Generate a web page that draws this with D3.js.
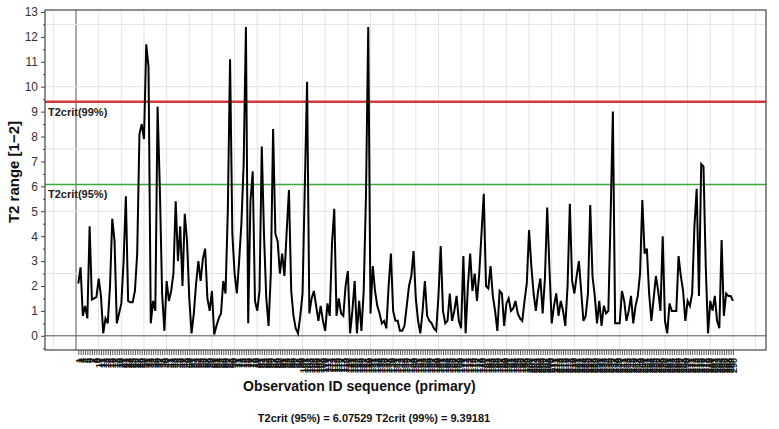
<!DOCTYPE html>
<html>
<head>
<meta charset="utf-8">
<script src="https://cdn.jsdelivr.net/npm/d3@7"></script>
<style>
  body { margin: 0; background: #fff; }
  svg text { font-family: "Liberation Sans", Arial, sans-serif; }
</style>
</head>
<body>
<div id="chart"></div>
<script>
// T2 range per observation (obs 1..290)
var t2Values = [
  2.1, 2.75, 0.8, 1.2, 0.7, 4.4, 1.45, 1.5, 1.55, 2.3,
  1.6, 0.1, 0.7, 0.5, 2.0, 4.7, 3.8, 0.5, 0.9, 1.3,
  3.0, 5.6, 1.4, 1.35, 1.35, 1.8, 3.3, 8.1, 8.5, 7.9,
  11.7, 10.8, 0.5, 1.4, 1.0, 9.2, 5.9, 1.7, 0.2, 2.2,
  1.4, 1.8, 2.5, 5.4, 3.0, 4.4, 2.0, 4.9, 3.8, 1.5,
  0.1, 0.9, 2.1, 3.0, 2.2, 3.1, 3.5, 1.5, 1.0, 1.8,
  0.05, 0.4, 0.7, 0.9, 2.2, 1.7, 5.0, 11.1, 4.1, 2.5,
  1.7, 3.0, 4.5, 6.9, 12.4, 0.5, 5.4, 6.6, 1.4, 1.0,
  1.8, 7.6, 4.0, 1.5, 0.4, 2.5, 8.3, 4.1, 3.8, 2.5,
  3.3, 2.4, 4.2, 5.85, 1.8, 0.8, 0.3, 0.1, 0.8, 1.7,
  6.0, 10.2, 0.9, 1.5, 1.8, 1.2, 0.6, 1.2, 0.6, 0.2,
  1.3, 0.8, 3.7, 5.1, 0.8, 1.5, 0.9, 0.8, 2.0, 2.6,
  0.1, 1.0, 2.2, 0.1, 1.4, 0.2, 1.8, 5.6, 12.4, 0.9,
  2.8, 1.8, 1.2, 0.9, 0.5, 0.6, 0.3, 2.0, 3.3, 1.0,
  0.6, 0.6, 0.2, 0.2, 0.4, 1.2, 2.0, 2.4, 3.4, 1.5,
  0.6, 0.1, 1.0, 2.2, 0.8, 0.6, 0.5, 0.3, 0.2, 1.6,
  3.6, 1.0, 0.5, 0.6, 1.7, 0.6, 1.0, 1.6, 0.6, 0.3,
  3.2, 0.1, 2.0, 3.3, 1.8, 2.5, 1.4, 2.5, 4.1, 5.7,
  2.0, 1.9, 2.8, 1.6, 1.0, 0.2, 1.8, 1.7, 0.4, 1.3,
  1.5, 1.0, 1.1, 1.4, 0.9, 0.7, 0.6, 1.4, 2.1, 4.25,
  2.8, 1.7, 1.0, 1.8, 2.3, 0.9, 2.3, 5.15, 2.7, 0.5,
  1.2, 1.7, 0.8, 1.4, 1.0, 0.4, 2.0, 5.3, 2.2, 1.7,
  2.4, 3.0, 1.8, 0.6, 0.8, 1.7, 5.25, 2.4, 1.6, 0.5,
  1.4, 0.4, 1.2, 0.9, 1.0, 4.8, 9.0, 0.5, 0.5, 0.5,
  1.8, 1.4, 0.6, 1.0, 1.6, 0.5, 1.2, 1.6, 2.5, 5.45,
  3.3, 3.5, 1.7, 0.6, 1.5, 2.4, 1.8, 1.0, 4.0, 0.6,
  0.1, 1.3, 1.0, 1.0, 1.0, 3.2, 2.4, 1.8, 0.6, 1.4,
  1.2, 1.7, 4.4, 5.9, 1.6, 6.9, 6.8, 2.8, 0.1, 1.4,
  1.0, 1.6, 0.6, 0.3, 3.85, 0.8, 1.7, 1.6, 1.6, 1.4
];
var critLabels = ["T2crit(95%)", "T2crit(99%)"];
var critValues = [6.07529, 9.39181];
var critColors = ["#3aa83a", "#d8383c"];
var yTickValues = [0, 1, 2, 3, 4, 5, 6, 7, 8, 9, 10, 11, 12, 13];
var yTitle = "T2 range [1\u22122]";
var xTitle = "Observation ID sequence (primary)";

var width = 779, height = 429;
var plot = { left: 45, right: 766, top: 10, bottom: 350 };

var svg = d3.select("#chart").append("svg")
  .attr("width", width)
  .attr("height", height);

var x = d3.scaleLinear().domain([-13.7, 304.6]).range([plot.left, plot.right]);
var y = d3.scaleLinear().domain([-0.57, 13.08]).range([plot.bottom, plot.top]);

var obs = t2Values.map((v, i) => ({ id: i + 1, value: v }));

// grid (the x=0 and y=0 lines are drawn darker)
var grid = svg.append("g").attr("class", "grid");
grid.selectAll("line.vg")
  .data(d3.range(-10, 301, 10))
  .enter().append("line")
  .attr("x1", d => x(d)).attr("x2", d => x(d))
  .attr("y1", plot.top).attr("y2", plot.bottom)
  .style("stroke", d => d === 0 ? "#555" : "#e4e4e4")
  .style("stroke-width", 1);
grid.selectAll("line.hg")
  .data([0, 2.5, 5, 7.5, 10, 12.5])
  .enter().append("line")
  .attr("x1", plot.left).attr("x2", plot.right)
  .attr("y1", d => y(d)).attr("y2", d => y(d))
  .style("stroke", d => d === 0 ? "#555" : "#e4e4e4")
  .style("stroke-width", 1);

// critical limits
svg.selectAll("line.crit")
  .data(critValues)
  .enter().append("line")
  .attr("x1", plot.left).attr("x2", plot.right)
  .attr("y1", d => y(d)).attr("y2", d => y(d))
  .style("stroke", (d, i) => critColors[i])
  .style("stroke-width", (d, i) => i === 1 ? 2.5 : 1.6);

svg.selectAll("text.crit")
  .data(critValues)
  .enter().append("text")
  .attr("x", plot.left + 3)
  .attr("y", d => y(d) + 14)
  .text((d, i) => critLabels[i])
  .style("font-size", "11px")
  .style("font-weight", "bold")
  .style("fill", "#222");

// the T2 series
var line = d3.line().x(d => x(d.id)).y(d => y(d.value));
svg.append("path")
  .datum(obs)
  .attr("d", line)
  .style("fill", "none")
  .style("stroke", "#000")
  .style("stroke-width", 2);

// frame
svg.append("rect")
  .attr("x", plot.left).attr("y", plot.top)
  .attr("width", plot.right - plot.left)
  .attr("height", plot.bottom - plot.top)
  .style("fill", "none")
  .style("stroke", "#444")
  .style("stroke-width", 1.2);

// y axis, major + minor ticks
var yAxis = svg.append("g")
  .attr("transform", `translate(${plot.left},0)`)
  .call(d3.axisLeft(y).tickValues(yTickValues).tickSize(4).tickPadding(3));
yAxis.select(".domain").remove();
yAxis.selectAll("text").style("font-size", "12px").style("fill", "#333");
yAxis.selectAll("line").style("stroke", "#444");
svg.append("g")
  .attr("transform", `translate(${plot.left},0)`)
  .call(d3.axisLeft(y).tickValues(d3.range(-0.5, 13, 1)).tickSize(2).tickFormat(""))
  .call(g => g.select(".domain").remove())
  .selectAll("line").style("stroke", "#444");

// x axis: one tick + id label per observation (they overlap into dark bands)
var xAxis = svg.append("g")
  .attr("transform", `translate(0,${plot.bottom})`)
  .call(d3.axisBottom(x).tickValues(obs.map(d => d.id)).tickSize(5));
xAxis.select(".domain").remove();
xAxis.selectAll("line").style("stroke", "#555");
xAxis.selectAll("text")
  .attr("x", 0)
  .attr("y", 0)
  .attr("dy", "0.35em")
  .attr("text-anchor", "end")
  .attr("transform", "translate(0,8) rotate(-90)")
  .style("font-size", "9px")
  .style("font-weight", "bold")
  .style("fill", "#111");

// titles
svg.append("text")
  .attr("transform", "translate(19,172) rotate(-90)")
  .attr("text-anchor", "middle")
  .text(yTitle)
  .style("font-size", "15px")
  .style("font-weight", "bold")
  .style("fill", "#111");

svg.append("text")
  .attr("x", 243).attr("y", 391)
  .text(xTitle)
  .style("font-size", "14px")
  .style("font-weight", "bold")
  .style("fill", "#111");

svg.append("text")
  .attr("x", 374).attr("y", 422)
  .attr("text-anchor", "middle")
  .text(`T2crit (95%) = ${critValues[0]} T2crit (99%) = ${critValues[1]}`)
  .style("font-size", "11px")
  .style("font-weight", "bold")
  .style("fill", "#111");
</script>
</body>
</html>
